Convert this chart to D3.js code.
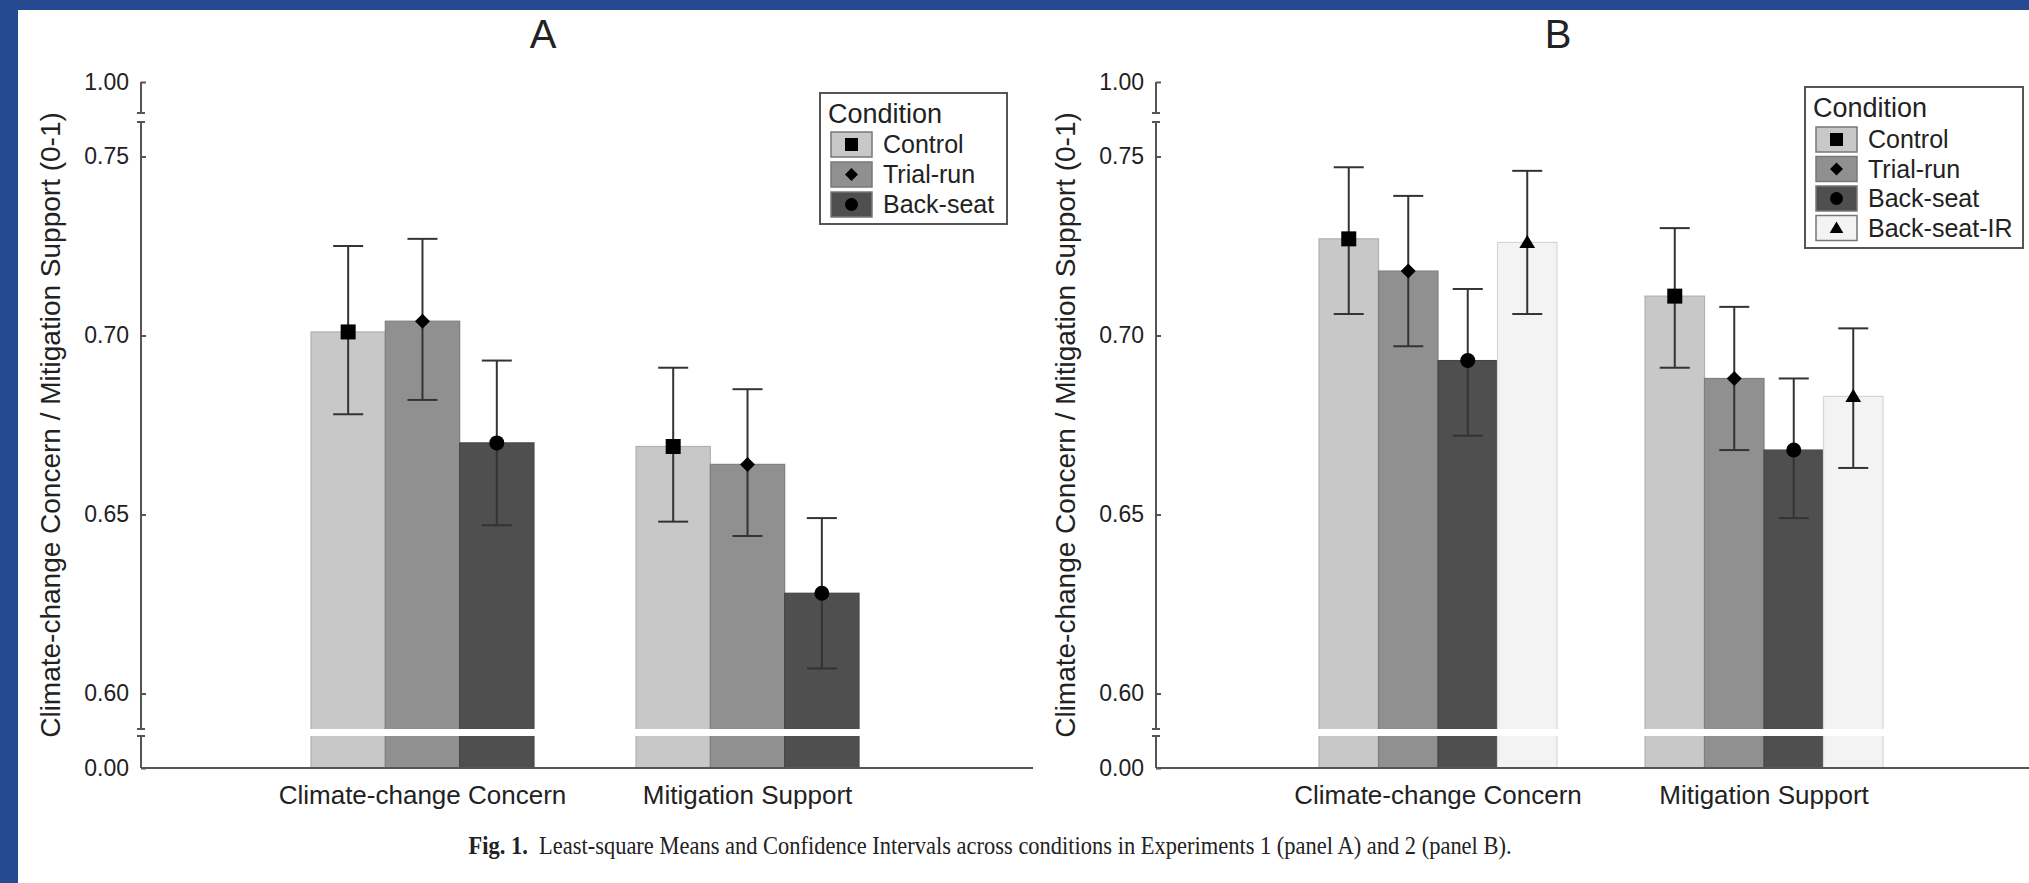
<!DOCTYPE html>
<head>
    <script src="https://d3js.org/d3.v7.min.js" charset="utf-8"></script>
    <style>
    body { margin: 0; background: #fff; }
    svg { display: block; }
    text { font-family: "Liberation Sans", Arial, sans-serif; fill: #222; }
    .caption { font-family: "Liberation Serif", "Times New Roman", serif; }
    </style>
</head>
<body>
<svg id="fig" width="2029" height="883"></svg>

<script>
    // data
    var groups = ["Climate-change Concern", "Mitigation Support"];
    var conditionsA = ["Control", "Trial-run", "Back-seat"];
    var conditionsB = ["Control", "Trial-run", "Back-seat", "Back-seat-IR"];
    var yTicks = [0, 0.60, 0.65, 0.70, 0.75, 1.00];

    // experiment 1 (panel A): one row per group
    var meanA  = [[0.701, 0.704, 0.670], [0.669, 0.664, 0.628]];
    var lowerA = [[0.678, 0.682, 0.647], [0.648, 0.644, 0.607]];
    var upperA = [[0.725, 0.727, 0.693], [0.691, 0.685, 0.649]];

    // experiment 2 (panel B)
    var meanB  = [[0.727, 0.718, 0.693, 0.726], [0.711, 0.688, 0.668, 0.683]];
    var lowerB = [[0.706, 0.697, 0.672, 0.706], [0.691, 0.668, 0.649, 0.663]];
    var upperB = [[0.747, 0.739, 0.713, 0.746], [0.730, 0.708, 0.688, 0.702]];

    var fills = {"Control": "#c8c8c8", "Trial-run": "#909090", "Back-seat": "#4f4f4f", "Back-seat-IR": "#f3f3f3"};
    var shapes = {"Control": "square", "Trial-run": "diamond", "Back-seat": "circle", "Back-seat-IR": "triangle"};

    function markerPath(shape, s) {
        var h = s / 2;
        if (shape == "square") return "M" + (-h) + "," + (-h) + "h" + s + "v" + s + "h" + (-s) + "Z";
        if (shape == "diamond") return "M0," + (-h) + "L" + h + ",0L0," + h + "L" + (-h) + ",0Z";
        if (shape == "triangle") return "M0," + (-h) + "L" + (h * 1.05) + "," + (h * 0.75) + "L" + (-h * 1.05) + "," + (h * 0.75) + "Z";
        return d3.arc()({innerRadius: 0, outerRadius: h, startAngle: 0, endAngle: 2 * Math.PI});
    }

    var svg = d3.select("#fig");

    // blue frame
    svg.append("rect").attr("x", 0).attr("y", 0).attr("width", 2029).attr("height", 883).attr("fill", "#264a91");
    svg.append("rect").attr("x", 18).attr("y", 10).attr("width", 2011).attr("height", 873).attr("fill", "#fff");

    // broken axis: three linear pieces
    var y = d3.scaleLinear()
        .domain([0, 0.5891, 0.7609, 1])
        .range([768, 732.5, 117.5, 82]);
    var lowBreak = y(0.5891), highBreak = y(0.7609);

    function drawPanel(p) {
        var g = svg.append("g");
        var conds = p.conditions;

        var x0 = d3.scaleBand().domain(groups).range(p.xRange)
            .paddingInner(p.padInner).paddingOuter(p.padOuter);
        var x1 = d3.scaleBand().domain(conds).range([0, x0.bandwidth()]);

        // title
        g.append("text").attr("x", p.axisX + 402).attr("y", 48)
            .attr("text-anchor", "middle").style("font-size", "40px").text(p.title);

        // bars
        groups.forEach(function (grp, gi) {
            var gx = x0(grp);
            conds.forEach(function (c, ci) {
                var bx = gx + x1(c);
                g.append("rect")
                    .attr("x", bx).attr("width", x1.bandwidth())
                    .attr("y", y(p.mean[gi][ci]))
                    .attr("height", y(0) - y(p.mean[gi][ci]))
                    .attr("fill", fills[c])
                    .attr("stroke", d3.color(fills[c]).darker(0.35))
                    .attr("stroke-width", 1.2);
            });
            // white gap where the axis is broken
            g.append("rect").attr("x", gx - 1).attr("width", x0.bandwidth() + 2)
                .attr("y", lowBreak - 3.5).attr("height", 7).attr("fill", "#fff");

            // error bars and markers
            conds.forEach(function (c, ci) {
                var cx = gx + x1(c) + x1.bandwidth() / 2;
                var lo = y(p.lower[gi][ci]), hi = y(p.upper[gi][ci]);
                g.append("line").attr("x1", cx).attr("x2", cx).attr("y1", lo).attr("y2", hi)
                    .attr("stroke", "#333").attr("stroke-width", 2);
                [lo, hi].forEach(function (yy) {
                    g.append("line").attr("x1", cx - 15).attr("x2", cx + 15).attr("y1", yy).attr("y2", yy)
                        .attr("stroke", "#333").attr("stroke-width", 2);
                });
                g.append("path").attr("d", markerPath(shapes[c], 15))
                    .attr("transform", "translate(" + cx + "," + y(p.mean[gi][ci]) + ")")
                    .attr("fill", "#000");
            });
        });

        // y axis: ticks and labels from d3, line drawn in pieces
        var yAxis = d3.axisLeft(y).tickValues(yTicks).tickFormat(d3.format(".2f"))
            .tickSize(-5).tickPadding(12);
        var ya = g.append("g").attr("transform", "translate(" + p.axisX + ",0)").call(yAxis);
        ya.select(".domain").remove();
        ya.selectAll("line").attr("stroke", "#555").attr("stroke-width", 2);
        ya.selectAll("text").style("font-size", "23px").attr("fill", "#333");

        var segs = [[y(1), highBreak - 4.5], [highBreak + 4.5, lowBreak - 3.5], [lowBreak + 3.5, y(0)]];
        segs.forEach(function (s) {
            g.append("line").attr("x1", p.axisX).attr("x2", p.axisX).attr("y1", s[0]).attr("y2", s[1])
                .attr("stroke", "#555").attr("stroke-width", 2);
        });
        [highBreak - 4.5, highBreak + 4.5, lowBreak - 3.5, lowBreak + 3.5].forEach(function (yy) {
            g.append("line").attr("x1", p.axisX - 4).attr("x2", p.axisX + 4).attr("y1", yy).attr("y2", yy)
                .attr("stroke", "#555").attr("stroke-width", 2);
        });

        // x axis
        var xAxis = d3.axisBottom(x0).tickSize(0).tickPadding(18);
        var xa = g.append("g").attr("transform", "translate(0," + y(0) + ")").call(xAxis);
        xa.select(".domain").remove();
        xa.selectAll("text").style("font-size", "26px").attr("fill", "#222");
        g.append("line").attr("x1", p.axisX).attr("x2", p.axisEnd).attr("y1", y(0)).attr("y2", y(0))
            .attr("stroke", "#555").attr("stroke-width", 2);

        // y label
        g.append("text")
            .attr("transform", "translate(" + (p.axisX - 81) + "," + ((y(0) + y(1)) / 2) + ") rotate(-90)")
            .attr("text-anchor", "middle").style("font-size", "28px")
            .text("Climate-change Concern / Mitigation Support (0-1)");

        // legend
        var L = p.legend;
        var lg = g.append("g").attr("transform", "translate(" + L.x + "," + L.y + ")");
        lg.append("rect").attr("width", L.w).attr("height", L.h)
            .attr("fill", "#fff").attr("stroke", "#555").attr("stroke-width", 2);
        lg.append("text").attr("x", 8).attr("y", L.titleY).style("font-size", "27px").text("Condition");
        conds.forEach(function (c, i) {
            var ry = L.rowY + i * L.pitch;
            lg.append("rect").attr("x", 11).attr("y", ry).attr("width", 41).attr("height", 25)
                .attr("fill", fills[c]).attr("stroke", "#777").attr("stroke-width", 1.5);
            lg.append("path").attr("d", markerPath(shapes[c], 13))
                .attr("transform", "translate(31.5," + (ry + 12.5) + ")").attr("fill", "#000");
            lg.append("text").attr("x", 63).attr("y", ry + 21).style("font-size", "25px").text(c);
        });
    }

    drawPanel({
        title: "A", conditions: conditionsA, mean: meanA, lower: lowerA, upper: upperA,
        axisX: 141, axisEnd: 1033, xRange: [141, 1029], padInner: 0.314, padOuter: 0.523,
        legend: {x: 820, y: 93, w: 187, h: 131, titleY: 30, rowY: 39, pitch: 30}
    });
    drawPanel({
        title: "B", conditions: conditionsB, mean: meanB, lower: lowerB, upper: upperB,
        axisX: 1156, axisEnd: 2029, xRange: [1156, 2046], padInner: 0.27, padOuter: 0.5,
        legend: {x: 1805, y: 87, w: 218, h: 161, titleY: 30, rowY: 40, pitch: 29.5}
    });

    // caption, slightly condensed like the journal face
    var cap = svg.append("text").attr("class", "caption")
        .attr("transform", "translate(990,854) scale(0.865,1)")
        .attr("text-anchor", "middle").style("font-size", "26px");
    cap.append("tspan").style("font-weight", "bold").text("Fig. 1.");
    cap.append("tspan").text("\u2002Least-square Means and Confidence Intervals across conditions in Experiments 1 (panel A) and 2 (panel B).");
</script>
</body>
